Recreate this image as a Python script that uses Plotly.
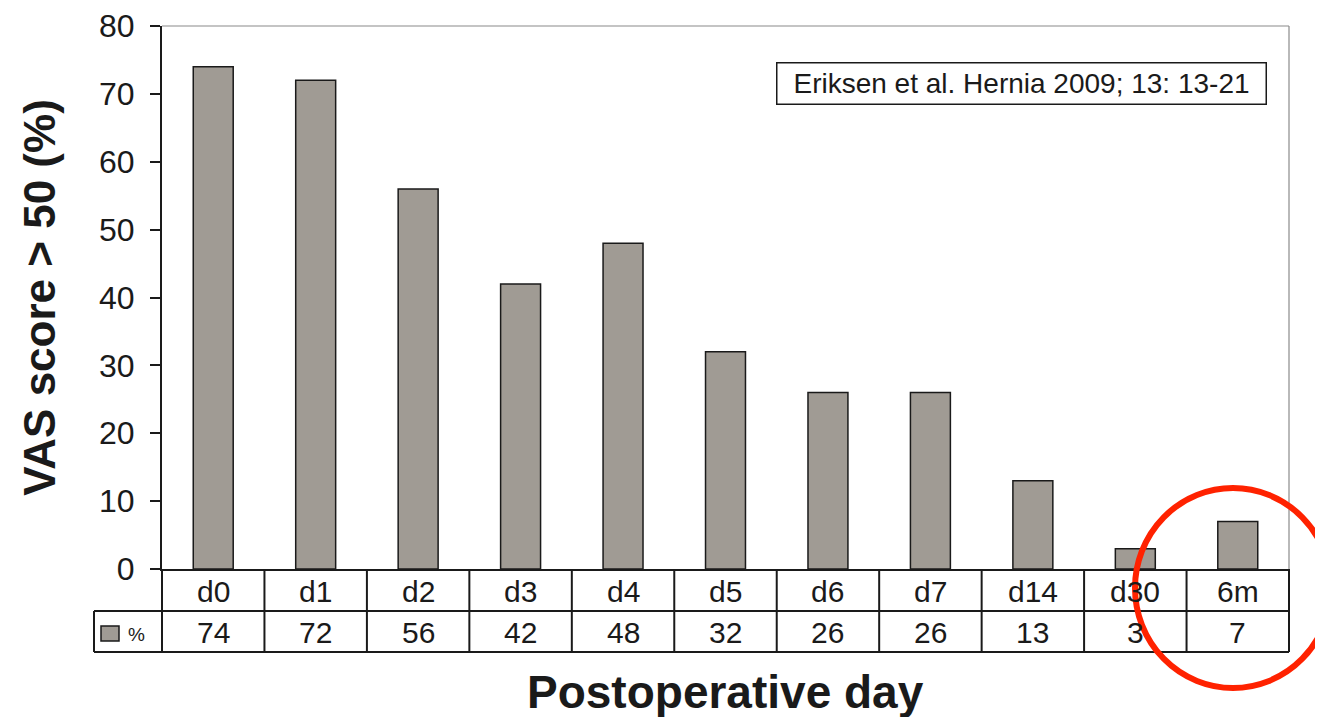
import plotly.graph_objects as go

days = ["d0", "d1", "d2", "d3", "d4", "d5", "d6", "d7", "d14", "d30", "6m"]
pct = [74, 72, 56, 42, 48, 32, 26, 26, 13, 3, 7]
y_ticks = [0, 10, 20, 30, 40, 50, 60, 70, 80]
source_text = "Eriksen et al. Hernia 2009; 13: 13-21"
y_title = "VAS score > 50 (%)"
x_title = "Postoperative day"
legend_label = "%"

FONT = "Liberation Sans, Arial, sans-serif"
BAR = "#a09b94"
INK = "#1a1a1a"

OFF = 8  # default page body margin
W, H = 1323 - OFF, 717 - OFF
# plot area in page coordinates
L, R, T, B = 162, 1289, 26, 569
pw, ph = R - L, B - T


def px(x):
    return (x - L) / pw


def py(y):
    return (B - y) / ph


fig = go.Figure()
fig.add_trace(go.Bar(
    x=days, y=pct, width=0.39,
    marker=dict(color=BAR, line=dict(color=INK, width=1.5)),
    showlegend=False, hoverinfo="x+y",
))

shapes = []
annotations = []

row1_top, row1_bot, row2_bot = py(569), py(611), py(652)
leg_left = px(94)

shapes.append(dict(type="line", xref="paper", yref="paper", x0=0, x1=1, y0=row1_bot, y1=row1_bot,
                   line=dict(color=INK, width=2)))
shapes.append(dict(type="line", xref="paper", yref="paper", x0=leg_left, x1=0, y0=row1_bot, y1=row1_bot,
                   line=dict(color=INK, width=2)))
shapes.append(dict(type="line", xref="paper", yref="paper", x0=leg_left, x1=1, y0=row2_bot, y1=row2_bot,
                   line=dict(color=INK, width=2)))
for xv in (0, 1):
    shapes.append(dict(type="line", xref="paper", yref="paper", x0=xv, x1=xv, y0=row1_top, y1=row2_bot,
                       line=dict(color=INK, width=2)))
shapes.append(dict(type="line", xref="paper", yref="paper", x0=leg_left, x1=leg_left, y0=row1_bot, y1=row2_bot,
                   line=dict(color=INK, width=2)))
for i in range(1, len(days)):
    shapes.append(dict(type="line", xref="x", yref="paper", x0=i - 0.5, x1=i - 0.5, y0=row1_top, y1=row2_bot,
                       line=dict(color=INK, width=2)))

shapes.append(dict(type="line", xref="paper", yref="paper", x0=0, x1=1, y0=1, y1=1,
                   line=dict(color="#8a8a8a", width=1.2)))
shapes.append(dict(type="line", xref="paper", yref="paper", x0=1, x1=1, y0=0, y1=1,
                   line=dict(color="#8a8a8a", width=1.2)))

shapes.append(dict(type="rect", xref="paper", yref="paper", x0=px(101), x1=px(119), y0=py(641), y1=py(626),
                   fillcolor=BAR, line=dict(color=INK, width=1.5)))
annotations.append(dict(xref="paper", yref="paper", x=px(136), y=py(634), text=legend_label, showarrow=False,
                        font=dict(family=FONT, size=19, color=INK), xanchor="center", yanchor="middle"))

for d, v in zip(days, pct):
    annotations.append(dict(xref="x", yref="paper", x=d, y=py(591), text=d, showarrow=False,
                            font=dict(family=FONT, size=30, color=INK), xanchor="center", yanchor="middle"))
    annotations.append(dict(xref="x", yref="paper", x=d, y=py(632), text=str(v), showarrow=False,
                            font=dict(family=FONT, size=30, color=INK), xanchor="center", yanchor="middle"))

annotations.append(dict(xref="paper", yref="paper", x=px(1267), y=py(62), text=source_text, showarrow=False,
                        xanchor="right", yanchor="top", font=dict(family=FONT, size=28, color=INK),
                        bordercolor=INK, borderwidth=1.5, borderpad=4, bgcolor="white",
                        width=480, height=32))

annotations.append(dict(xref="paper", yref="paper", x=0.5, y=py(692), text="<b>%s</b>" % x_title,
                        showarrow=False, xanchor="center", yanchor="middle",
                        font=dict(family=FONT, size=46, color=INK)))

shapes.append(dict(type="circle", xref="paper", yref="paper", x0=px(1135), x1=px(1331), y0=py(688), y1=py(488),
                   line=dict(color="#ff2200", width=6)))

fig.update_layout(
    width=W, height=H,
    margin=dict(l=L - OFF, r=W - (R - OFF), t=T - OFF, b=H - (B - OFF), autoexpand=False),
    paper_bgcolor="white", plot_bgcolor="white",
    shapes=shapes, annotations=annotations,
    xaxis=dict(type="category", range=[-0.5, len(days) - 0.5], showticklabels=False, ticks="",
               showline=True, linecolor=INK, linewidth=2, showgrid=False, zeroline=False, fixedrange=True,
               automargin=False),
    yaxis=dict(range=[0, 80], tickvals=y_ticks, ticks="outside", ticklen=10, tickwidth=2, tickcolor=INK,
               showline=True, linecolor=INK, linewidth=2, showgrid=False, zeroline=False, automargin=False,
               tickfont=dict(family=FONT, size=32, color=INK), ticklabelstandoff=9,
               title=dict(text="<b>%s</b>" % y_title, font=dict(family=FONT, size=44, color=INK), standoff=30)),
    font=dict(family=FONT),
)

fig.write_html("out.html")
